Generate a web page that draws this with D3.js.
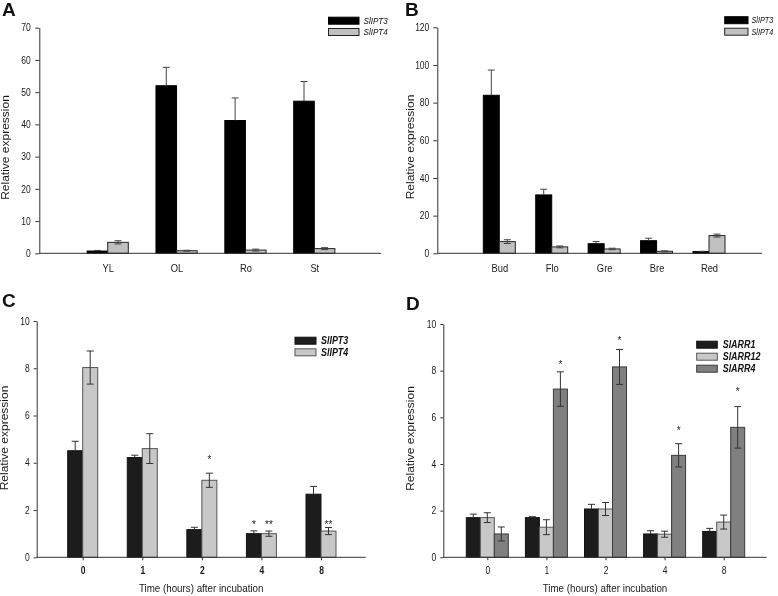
<!DOCTYPE html>
<html><head><meta charset="utf-8">
<script src="https://cdn.jsdelivr.net/npm/d3@7"></script>
<style>body{margin:0;background:#fff}svg{display:block;font-family:"Liberation Sans",Arial,sans-serif;will-change:transform}</style>
</head><body><script>
// ---------- data ----------
const catsA = ["YL","OL","Ro","St"];
const seriesIPT = ["SlIPT3","SlIPT4"];
const aIPT3 = [0.7, 52.0, 41.2, 47.2];
const aIPT3Err = [0.2, 5.7, 7.0, 6.1];
const aIPT4 = [3.4, 0.8, 1.0, 1.45];
const aIPT4Err = [0.5, 0.15, 0.3, 0.3];
const ticksA = [0,10,20,30,40,50,60,70];

const catsB = ["Bud","Flo","Gre","Bre","Red"];
const bIPT3 = [83.9, 31.0, 5.1, 6.7, 0.9];
const bIPT3Err = [13.4, 3.0, 1.2, 1.3, 0.15];
const bIPT4 = [6.2, 3.4, 2.3, 1.06, 9.4];
const bIPT4Err = [1.0, 0.5, 0.4, 0.25, 0.8];
const ticksB = [0,20,40,60,80,100,120];

const catsC = ["0","1","2","4","8"];
const cIPT3 = [4.51, 4.22, 1.17, 1.0, 2.67];
const cIPT3Err = [0.4, 0.1, 0.1, 0.12, 0.33];
const cIPT4 = [8.03, 4.6, 3.26, 1.0, 1.11];
const cIPT4Err = [0.7, 0.63, 0.3, 0.11, 0.15];
const starsC = [
  {cat:"2", s:1, t:"*",  at:4.17},
  {cat:"4", s:0, t:"*",  at:1.44},
  {cat:"4", s:1, t:"**", at:1.44},
  {cat:"8", s:1, t:"**", at:1.44}
];

const catsD = ["0","1","2","4","8"];
const seriesARR = ["SlARR1","SlARR12","SlARR4"];
const dARR1 = [1.7, 1.7, 2.07, 1.0, 1.11];
const dARR1Err = [0.15, 0.04, 0.2, 0.14, 0.13];
const dARR12 = [1.7, 1.29, 2.07, 0.99, 1.51];
const dARR12Err = [0.21, 0.32, 0.28, 0.13, 0.3];
const dARR4 = [1.0, 7.21, 8.16, 4.37, 5.57];
const dARR4Err = [0.3, 0.74, 0.75, 0.5, 0.89];
const starsD = [
  {cat:"1", s:2, t:"*", at:8.32},
  {cat:"2", s:2, t:"*", at:9.34},
  {cat:"4", s:2, t:"*", at:5.49},
  {cat:"8", s:2, t:"*", at:7.13}
];
const ticksCD = [0,2,4,6,8,10];

const yTitle = "Relative expression";
const xTitle = "Time (hours) after incubation";

// ---------- drawing ----------
const SQ = 0.85;
const svg = d3.select("body").append("svg").attr("width",778).attr("height",596);
svg.append("rect").attr("width",778).attr("height",596).attr("fill","#fff");

function panel(o){
  const g = svg.append("g");
  const y = d3.scaleLinear().domain([0,o.yMax]).range([o.yBot,o.yTop]);
  const x = d3.scalePoint().domain(o.cats).range([o.x0+o.c0, o.x0+o.c1]);
  const n = o.series.length;
  const off = si => -n*o.bw/2 + si*o.bw;
  o.series.forEach((s,si)=>{
    g.append("g").selectAll("rect").data(s.vals).join("rect")
      .attr("x",(d,i)=>x(o.cats[i])+off(si))
      .attr("y",d=>y(d))
      .attr("width",o.bw)
      .attr("height",d=>y(0)-y(d))
      .attr("fill",s.fill).attr("stroke",s.stroke).attr("stroke-width",1);
    const eg = g.append("g").attr("stroke",o.errColor).attr("stroke-width",1).attr("fill","none");
    s.vals.forEach((v,i)=>{
      const cx = x(o.cats[i])+off(si)+o.bw/2;
      const e = s.errs[i];
      const lo = s.upOnly ? v : v-e;
      eg.append("line").attr("x1",cx).attr("x2",cx).attr("y1",y(lo)).attr("y2",y(v+e));
      eg.append("line").attr("x1",cx-o.cap/2).attr("x2",cx+o.cap/2).attr("y1",y(v+e)).attr("y2",y(v+e));
      if(!s.upOnly) eg.append("line").attr("x1",cx-o.cap/2).attr("x2",cx+o.cap/2).attr("y1",y(v-e)).attr("y2",y(v-e));
    });
  });
  if(o.stars){
    g.append("g").selectAll("text").data(o.stars).join("text")
      .attr("class","nosq")
      .attr("x",d=>x(d.cat)+off(d.s)+o.bw/2)
      .attr("y",d=>y(d.at)+4.5)
      .attr("text-anchor","middle").attr("font-size",10).attr("fill","#222")
      .text(d=>d.t);
  }
  const ya = g.append("g").attr("transform",`translate(${o.x0},0)`)
    .call(d3.axisLeft(y).tickValues(o.ticks).tickSize(o.ytick).tickSizeOuter(0).tickPadding(o.ypad));
  ya.attr("font-size",10).attr("font-family",null);
  ya.select(".domain").attr("stroke","#333");
  ya.selectAll(".tick line").attr("stroke","#333");
  ya.selectAll(".tick text").attr("fill","#1a1a1a");
  g.append("line").attr("x1",o.x0).attr("x2",o.x1).attr("y1",y(0)).attr("y2",y(0)).attr("stroke","#333");
  const xa = g.append("g").attr("transform",`translate(0,${y(0)})`)
    .call(d3.axisBottom(x).tickSize(o.xtick).tickSizeOuter(0).tickPadding(o.xpad));
  xa.attr("font-size",o.xfs).attr("font-family",null).attr("font-weight",o.xBold?"bold":null);
  xa.select(".domain").remove();
  xa.selectAll(".tick line").attr("stroke","#333");
  xa.selectAll(".tick text").attr("fill","#1a1a1a");
  g.append("text").attr("class","nosq")
    .attr("transform",`translate(${o.ylx},${o.yly}) scale(${SQ},1) rotate(-90)`)
    .attr("text-anchor","middle").attr("font-size",12).attr("fill","#1a1a1a").text(yTitle);
  if(o.xTitle){
    g.append("text").attr("x",(o.x0+o.x1)/2).attr("y",592)
      .attr("text-anchor","middle").attr("font-size",11.5).attr("fill","#1a1a1a").text(o.xTitle);
  }
  g.append("text").attr("class","nosq").attr("x",o.lx).attr("y",o.ly)
    .attr("font-size",19).attr("font-weight","bold").attr("fill","#111").text(o.letter);
  const L = o.legend;
  const lg = g.append("g");
  o.series.forEach((s,si)=>{
    const cy = L.y + si*L.dy;
    lg.append("rect").attr("x",L.x).attr("y",cy-L.h/2).attr("width",L.w).attr("height",L.h)
      .attr("fill",s.fill).attr("stroke",s.stroke);
    lg.append("text").attr("x",L.tx).attr("y",cy).attr("dy","0.35em")
      .attr("font-size",L.fs).attr("font-style","italic").attr("font-weight",L.bold?"bold":null)
      .attr("fill","#111").text(s.name);
  });
}

panel({letter:"A", lx:2, ly:15.5, cats:catsA, x0:39.3, x1:381, c0:68.4, c1:275,
  yTop:27.7, yBot:253.3, yMax:70, ticks:ticksA, ytick:4, ypad:4.5, xtick:0, xpad:10.5, xfs:11,
  bw:20.6, cap:7, errColor:"#444", ylx:8.5, yly:147.5,
  series:[
    {name:seriesIPT[0], vals:aIPT3, errs:aIPT3Err, fill:"#000", stroke:"#000", upOnly:true},
    {name:seriesIPT[1], vals:aIPT4, errs:aIPT4Err, fill:"#c0c0c0", stroke:"#222"}],
  legend:{x:328.5, w:30.5, h:7, y:20.7, dy:11.3, tx:363.5, fs:9.5}
});

panel({letter:"B", lx:405, ly:15.5, cats:catsB, x0:437.3, x1:762, c0:62, c1:271.7,
  yTop:27.3, yBot:253.3, yMax:120, ticks:ticksB, ytick:4, ypad:4, xtick:0, xpad:10.5, xfs:11,
  bw:16, cap:7, errColor:"#444", ylx:413.5, yly:147,
  series:[
    {name:seriesIPT[0], vals:bIPT3, errs:bIPT3Err, fill:"#000", stroke:"#000", upOnly:true},
    {name:seriesIPT[1], vals:bIPT4, errs:bIPT4Err, fill:"#c0c0c0", stroke:"#222"}],
  legend:{x:724.7, w:23.3, h:7, y:20.2, dy:11.5, tx:751.5, fs:8.5}
});

panel({letter:"C", lx:2, ly:306.5, cats:catsC, x0:36.7, x1:365.7, c0:46, c1:284.3,
  yTop:321, yBot:557.3, yMax:10, ticks:ticksCD, ytick:3, ypad:4, xtick:3, xpad:6.2, xfs:10, xBold:true,
  bw:15, cap:7, errColor:"#333", ylx:8, yly:438, xTitle:xTitle, stars:starsC,
  series:[
    {name:seriesIPT[0], vals:cIPT3, errs:cIPT3Err, fill:"#1c1c1c", stroke:"#111", upOnly:true},
    {name:seriesIPT[1], vals:cIPT4, errs:cIPT4Err, fill:"#c8c8c8", stroke:"#555"}],
  legend:{x:295, w:21, h:7, y:340.7, dy:11.6, tx:321, fs:10.5, bold:true}
});

panel({letter:"D", lx:406, ly:309.5, cats:catsD, x0:443.3, x1:766.7, c0:44, c1:280.4,
  yTop:324, yBot:557.3, yMax:10, ticks:ticksCD, ytick:3, ypad:4, xtick:3, xpad:6.2, xfs:10,
  bw:14, cap:7, errColor:"#333", ylx:413.5, yly:438.5, xTitle:xTitle, stars:starsD,
  series:[
    {name:seriesARR[0], vals:dARR1, errs:dARR1Err, fill:"#1c1c1c", stroke:"#111", upOnly:true},
    {name:seriesARR[1], vals:dARR12, errs:dARR12Err, fill:"#c8c8c8", stroke:"#555"},
    {name:seriesARR[2], vals:dARR4, errs:dARR4Err, fill:"#808080", stroke:"#3a3a3a"}],
  legend:{x:696.7, w:20.6, h:7, y:344.7, dy:12, tx:722.7, fs:10.5, bold:true}
});

svg.selectAll("text").filter(function(){return !this.classList.contains("nosq");}).each(function(){
  const l = this.getComputedTextLength();
  if(l>0){ this.setAttribute("textLength", (l*SQ).toFixed(2)); this.setAttribute("lengthAdjust","spacingAndGlyphs"); }
});
</script></body></html>
